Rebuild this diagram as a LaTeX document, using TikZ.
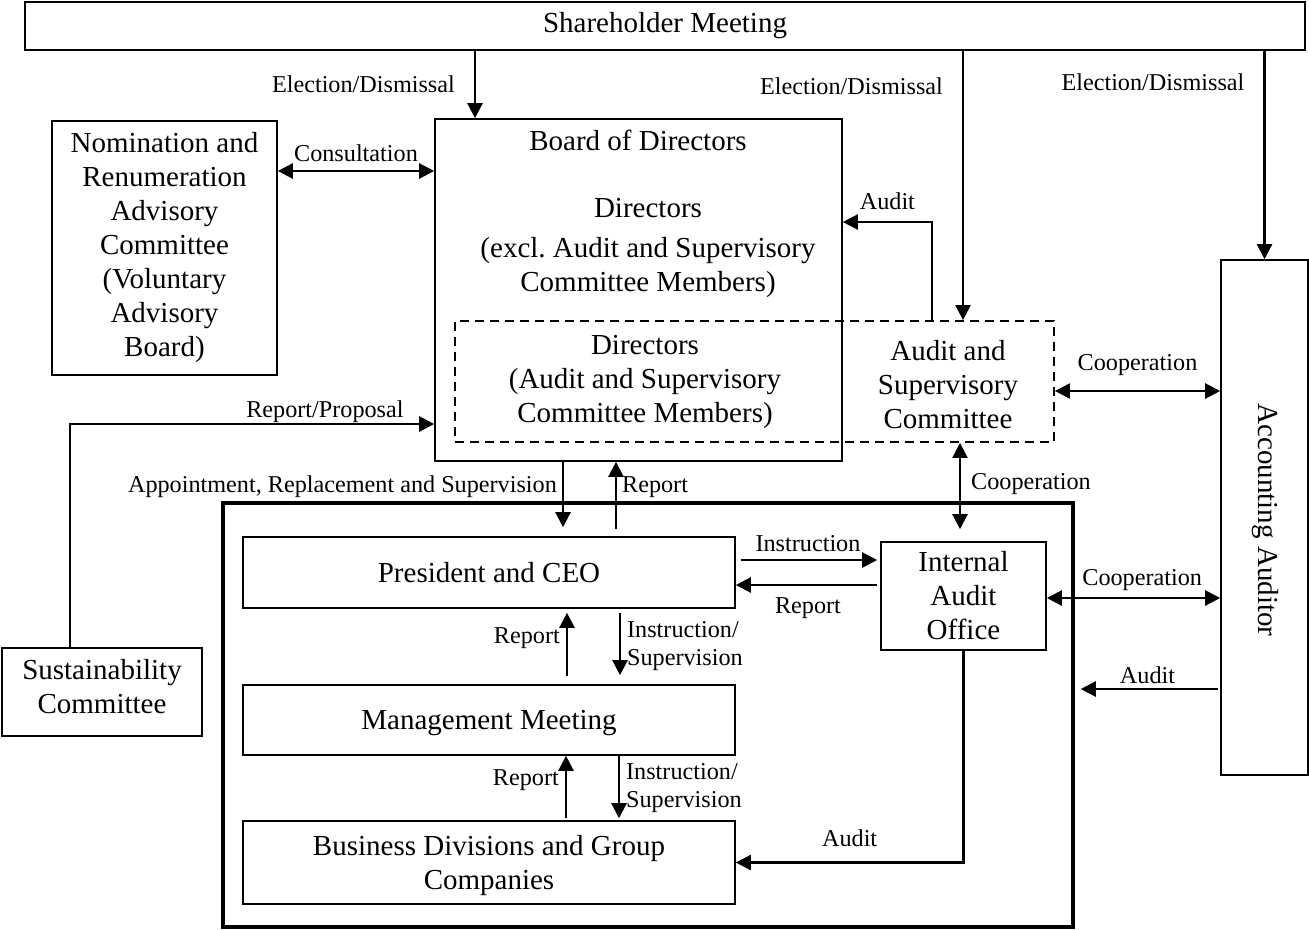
\documentclass[tikz,border=0pt]{standalone}
\usepackage{fontspec}
\setmainfont{Liberation Serif}
\usetikzlibrary{arrows.meta}

\begin{document}
\begin{tikzpicture}[x=1pt, y=-1pt,
    box/.style={draw, line width=1.6pt, align=center, inner sep=0pt,
      font=\fontsize{29}{34}\selectfont},
    txt/.style={align=center, inner sep=0pt, font=\fontsize{29}{34}\selectfont},
    lbl/.style={inner sep=2pt, align=left, font=\fontsize{24.2}{28}\selectfont},
    arr/.style={line width=2.3pt, -{Triangle[length=15pt,width=15pt]}},
    darr/.style={line width=2.3pt, {Triangle[length=15pt,width=15pt]}-{Triangle[length=15pt,width=15pt]}},
    dashbox/.style={draw, line width=1.8pt, dash pattern=on 9pt off 6pt},
]
\useasboundingbox (0,0) rectangle (1309,929);

% boxes
\node[box, minimum width=1280pt, minimum height=48pt] (share) at (665,26) {Shareholder Meeting};
\node[box, minimum width=225pt, minimum height=254pt] (nrac) at (164.5,248)
  {Nomination and\\Renumeration\\Advisory\\Committee\\(Voluntary\\Advisory\\Board)};
\node[box, minimum width=407pt, minimum height=342pt] (board) at (638.5,290) {};
\node[txt] (boardtitle) at (638,140) {Board of Directors};
\node[txt] (direxcl) at (648,248) {Directors\\[6pt](excl.\ Audit and Supervisory\\Committee Members)};
\node[dashbox, minimum width=599pt, minimum height=121pt] (asc) at (754.5,381.5) {};
\node[txt] (dirasc) at (645,382) {Directors\\(Audit and Supervisory\\Committee Members)};
\node[txt] (asctext) at (948,385) {Audit and\\Supervisory\\Committee};
\node[box, minimum width=87pt, minimum height=515pt] (auditor) at (1264.5,517.5) {};
\node[txt, rotate=-90] (auditortext) at (1265,520) {Accounting Auditor};
\node[box, minimum width=200pt, minimum height=88pt] (sust) at (102,692) {};
\node[txt] (susttext) at (102,687) {Sustainability\\Committee};
\node[draw, line width=3.5pt, minimum width=850pt, minimum height=424pt] (frame) at (648,715) {};
\node[box, minimum width=492pt, minimum height=71pt] (pres) at (489,572.5) {President and CEO};
\node[box, minimum width=165pt, minimum height=108pt] (iao) at (963.5,596) {Internal\\Audit\\Office};
\node[box, minimum width=492pt, minimum height=70pt] (mgmt) at (489,720) {};
\node[txt] (mgmttext) at (489,723) {Management Meeting};
\node[box, minimum width=492pt, minimum height=83pt] (biz) at (489,862.5) {};
\node[txt] (biztext) at (489,866) {Business Divisions and Group\\Companies};

% election
\draw[arr] (share.south -| 475,0) -- node[lbl, left=17pt] {Election/Dismissal} (board.north -| 475,0);
\draw[arr] (share.south -| 963,0) -- node[lbl, left=17pt, pos=.13] {Election/Dismissal} (asc.north -| 963,0);
\draw[arr] (share.south -| auditor.north) -- node[lbl, left=17pt, pos=.15] {Election/Dismissal} (auditor.north);

% board level
\draw[darr] (nrac.east |- 0,171) -- node[lbl, above=6pt] {Consultation} (board.west |- 0,171);
\draw[arr] (asc.north -| 932,0) |- node[lbl, above=9pt, pos=.75] {Audit} (board.east |- 0,222);
\draw[darr] (asc.east |- 0,391) -- node[lbl, above=12pt] {Cooperation} (auditor.west |- 0,391);
\draw[arr] (sust.north -| 70,0) |- node[lbl, above=-2pt, pos=.85] {Report/Proposal} (board.west |- 0,424);

% board and execution
\draw[arr, shorten >=9pt] (board.south -| 563,0) -- node[lbl, left=3pt, pos=.34] {Appointment, Replacement and Supervision} (pres.north -| 563,0);
\draw[arr, shorten <=7pt] (pres.north -| 616,0) -- node[lbl, right=3pt, pos=.66] {Report} (board.south -| 616,0);
\draw[darr, shorten >=12pt] (asc.south -| 960,0) -- node[lbl, right=8pt, pos=.42] {Cooperation} (iao.north -| 960,0);

% internal audit office
\draw[arr, shorten <=5pt, shorten >=3pt] (pres.east |- 0,560) -- node[lbl, above=5pt] {Instruction} (iao.west |- 0,560);
\draw[arr, shorten <=3pt] (iao.west |- 0,585) -- node[lbl, below=9pt] {Report} (pres.east |- 0,585);
\draw[darr] (iao.east |- 0,598) -- node[lbl, above=4pt, pos=.55] {Cooperation} (auditor.west |- 0,598);
\draw[arr, shorten <=2pt, shorten >=6pt] (auditor.west |- 0,689) -- node[lbl, above=2pt] {Audit} (frame.east |- 0,689);
\draw[arr] (iao.south) |- node[lbl, above=13pt, pos=.75] {Audit} (biz.east);

% execution chain
\draw[arr, shorten <=8pt, shorten >=4pt] (mgmt.north -| 567,0) -- node[lbl, left=4pt, pos=.61] {Report} (pres.south -| 567,0);
\draw[arr, shorten <=4pt, shorten >=9pt] (pres.south -| 620,0) -- node[lbl, right=4pt] {Instruction/\\Supervision} (mgmt.north -| 620,0);
\draw[arr, shorten <=2pt] (biz.north -| 566,0) -- node[lbl, left=4pt, pos=.62] {Report} (mgmt.south -| 566,0);
\draw[arr, shorten >=2pt] (mgmt.south -| 619,0) -- node[lbl, right=4pt] {Instruction/\\Supervision} (biz.north -| 619,0);
\end{tikzpicture}
\end{document}
